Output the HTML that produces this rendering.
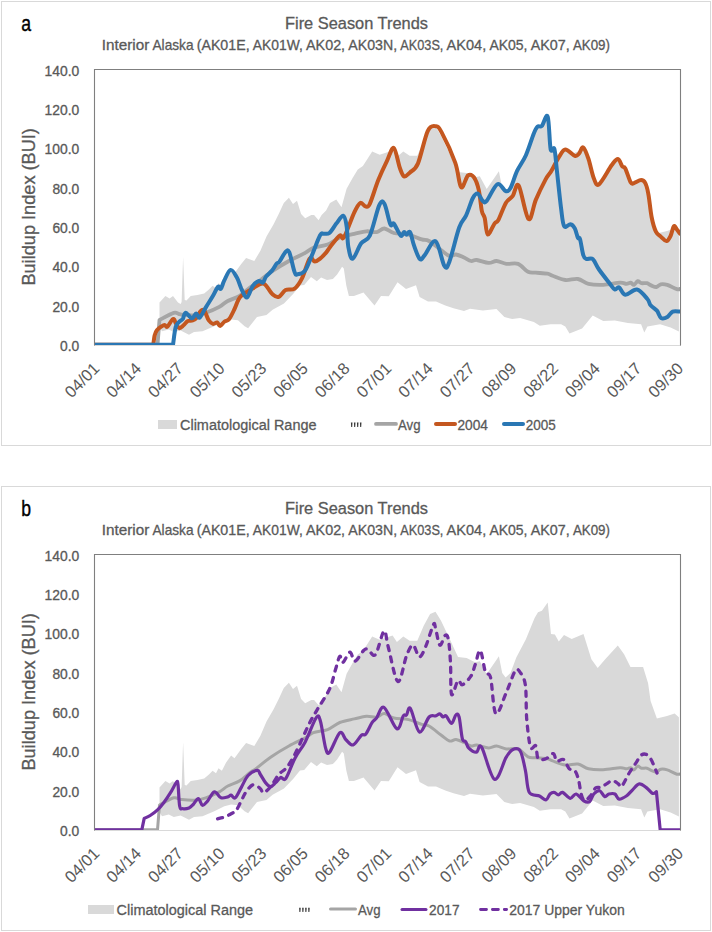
<!DOCTYPE html>
<html><head><meta charset="utf-8"><style>html,body{margin:0;padding:0;background:#fff;width:712px;height:932px;overflow:hidden}</style></head>
<body><svg width="712" height="932" viewBox="0 0 712 932" style="display:block">
<defs><clipPath id="clipa"><rect x="94" y="69" width="586.5" height="276"/></clipPath><clipPath id="clipb"><rect x="94" y="69" width="586.5" height="276"/></clipPath></defs>
<g font-family='"Liberation Sans", sans-serif' fill="#595959">
<rect x="1.5" y="1.5" width="709" height="444" fill="#fff" stroke="#d9d9d9" stroke-width="1"/>
<text transform="translate(21.3,30.8) scale(0.8,1)" font-size="22" fill="#000" stroke="#000" stroke-width="0.4">a</text>
<text x="285" y="28.6" font-size="16.6" textLength="143" lengthAdjust="spacingAndGlyphs" stroke="#595959" stroke-width="0.3">Fire Season Trends</text>
<text x="101.8" y="49.9" font-size="14.5" textLength="47.5" lengthAdjust="spacingAndGlyphs" stroke="#595959" stroke-width="0.3">Interior</text><text x="152.5" y="49.9" font-size="14.5" textLength="41.0" lengthAdjust="spacingAndGlyphs" stroke="#595959" stroke-width="0.3">Alaska</text><text x="196.7" y="49.9" font-size="14.5" textLength="52.9" lengthAdjust="spacingAndGlyphs" stroke="#595959" stroke-width="0.3">(AK01E,</text><text x="252.8" y="49.9" font-size="14.5" textLength="50.0" lengthAdjust="spacingAndGlyphs" stroke="#595959" stroke-width="0.3">AK01W,</text><text x="306.0" y="49.9" font-size="14.5" textLength="39.1" lengthAdjust="spacingAndGlyphs" stroke="#595959" stroke-width="0.3">AK02,</text><text x="348.3" y="49.9" font-size="14.5" textLength="48.8" lengthAdjust="spacingAndGlyphs" stroke="#595959" stroke-width="0.3">AK03N,</text><text x="400.3" y="49.9" font-size="14.5" textLength="43.1" lengthAdjust="spacingAndGlyphs" stroke="#595959" stroke-width="0.3">AK03S,</text><text x="446.6" y="49.9" font-size="14.5" textLength="39.6" lengthAdjust="spacingAndGlyphs" stroke="#595959" stroke-width="0.3">AK04,</text><text x="489.4" y="49.9" font-size="14.5" textLength="38.1" lengthAdjust="spacingAndGlyphs" stroke="#595959" stroke-width="0.3">AK05,</text><text x="530.7" y="49.9" font-size="14.5" textLength="39.0" lengthAdjust="spacingAndGlyphs" stroke="#595959" stroke-width="0.3">AK07,</text><text x="572.9" y="49.9" font-size="14.5" textLength="37.1" lengthAdjust="spacingAndGlyphs" stroke="#595959" stroke-width="0.3">AK09)</text>
<text transform="translate(35,285.6) rotate(-90)" font-size="18.2" textLength="157.5" lengthAdjust="spacingAndGlyphs" stroke="#595959" stroke-width="0.3">Buildup Index (BUI)</text>
<text x="79.3" y="350.8" text-anchor="end" font-size="13.8" textLength="19.2" lengthAdjust="spacingAndGlyphs" stroke="#595959" stroke-width="0.3">0.0</text>
<text x="79.3" y="311.5" text-anchor="end" font-size="13.8" textLength="26.9" lengthAdjust="spacingAndGlyphs" stroke="#595959" stroke-width="0.3">20.0</text>
<text x="79.3" y="272.2" text-anchor="end" font-size="13.8" textLength="26.9" lengthAdjust="spacingAndGlyphs" stroke="#595959" stroke-width="0.3">40.0</text>
<text x="79.3" y="232.9" text-anchor="end" font-size="13.8" textLength="26.9" lengthAdjust="spacingAndGlyphs" stroke="#595959" stroke-width="0.3">60.0</text>
<text x="79.3" y="193.7" text-anchor="end" font-size="13.8" textLength="26.9" lengthAdjust="spacingAndGlyphs" stroke="#595959" stroke-width="0.3">80.0</text>
<text x="79.3" y="154.4" text-anchor="end" font-size="13.8" textLength="34.7" lengthAdjust="spacingAndGlyphs" stroke="#595959" stroke-width="0.3">100.0</text>
<text x="79.3" y="115.1" text-anchor="end" font-size="13.8" textLength="34.7" lengthAdjust="spacingAndGlyphs" stroke="#595959" stroke-width="0.3">120.0</text>
<text x="79.3" y="75.8" text-anchor="end" font-size="13.8" textLength="34.7" lengthAdjust="spacingAndGlyphs" stroke="#595959" stroke-width="0.3">140.0</text>
<text transform="translate(100.6,369.5) rotate(-45)" text-anchor="end" font-size="16.5">04/01</text>
<text transform="translate(142.3,369.5) rotate(-45)" text-anchor="end" font-size="16.5">04/14</text>
<text transform="translate(184.0,369.5) rotate(-45)" text-anchor="end" font-size="16.5">04/27</text>
<text transform="translate(225.7,369.5) rotate(-45)" text-anchor="end" font-size="16.5">05/10</text>
<text transform="translate(267.4,369.5) rotate(-45)" text-anchor="end" font-size="16.5">05/23</text>
<text transform="translate(309.1,369.5) rotate(-45)" text-anchor="end" font-size="16.5">06/05</text>
<text transform="translate(350.7,369.5) rotate(-45)" text-anchor="end" font-size="16.5">06/18</text>
<text transform="translate(392.4,369.5) rotate(-45)" text-anchor="end" font-size="16.5">07/01</text>
<text transform="translate(434.1,369.5) rotate(-45)" text-anchor="end" font-size="16.5">07/14</text>
<text transform="translate(475.8,369.5) rotate(-45)" text-anchor="end" font-size="16.5">07/27</text>
<text transform="translate(517.5,369.5) rotate(-45)" text-anchor="end" font-size="16.5">08/09</text>
<text transform="translate(559.2,369.5) rotate(-45)" text-anchor="end" font-size="16.5">08/22</text>
<text transform="translate(600.9,369.5) rotate(-45)" text-anchor="end" font-size="16.5">09/04</text>
<text transform="translate(642.6,369.5) rotate(-45)" text-anchor="end" font-size="16.5">09/17</text>
<text transform="translate(684.3,369.5) rotate(-45)" text-anchor="end" font-size="16.5">09/30</text>
<g transform="translate(0,0)">
<line x1="94" y1="345.5" x2="681" y2="345.5" stroke="#d9d9d9" stroke-width="1"/>
<g clip-path="url(#clipa)">
<polygon points="159.5,302.6 165.4,295.9 169.6,298.5 173.0,296.0 178.0,302.5 180.6,304.0 181.6,302.0 183.1,257.1 184.7,300.0 186.5,300.5 190.7,295.9 197.4,295.1 204.2,293.4 209.2,289.2 212.6,285.8 216.0,288.3 218.5,283.3 221.9,285.8 226.1,277.4 231.1,270.6 234.5,273.2 241.2,263.9 246.1,257.9 254.3,260.9 260.4,250.8 266.5,236.5 273.6,224.3 278.7,214.1 283.8,202.9 288.9,197.8 293.0,203.9 297.0,200.8 301.1,214.1 305.2,218.2 311.3,215.1 314.1,215.0 318.6,220.3 321.6,215.0 326.1,210.5 330.0,203.0 336.3,199.5 341.5,207.3 346.6,188.7 352.6,178.0 357.8,169.5 362.9,166.0 372.2,151.5 379.7,154.7 392.6,150.4 396.9,156.9 403.3,151.5 409.7,155.8 417.3,155.8 423.7,140.8 430.1,129.0 435.5,126.8 440.9,135.4 449.5,153.6 458.0,171.9 466.6,173.0 475.0,177.3 479.8,176.3 486.7,189.1 495.0,177.0 498.9,171.2 502.2,188.1 505.6,192.4 510.5,188.1 516.3,172.6 525.9,154.3 534.6,133.0 538.0,127.2 541.9,125.8 547.7,117.6 551.0,149.0 554.9,149.4 558.8,156.5 564.0,150.1 571.7,153.9 583.5,149.0 591.4,174.3 597.7,183.1 605.2,174.3 617.8,160.4 624.1,169.2 630.5,181.9 643.1,181.9 648.1,198.2 650.6,215.9 656.9,233.6 667.0,231.0 674.6,228.5 678.9,232.3 678.9,331.5 670.6,327.4 660.1,324.3 647.4,326.4 644.3,332.5 641.1,324.3 627.9,323.1 614.8,320.5 603.2,321.1 592.7,315.5 582.1,328.5 569.5,333.5 565.3,326.4 561.1,324.3 550.5,324.3 539.8,325.8 533.9,321.9 520.1,318.0 512.2,319.0 504.4,317.0 496.5,309.1 482.9,310.5 470.0,308.8 464.0,311.0 453.5,308.3 445.3,305.5 436.0,301.5 428.0,301.5 419.6,297.0 416.0,285.3 406.0,289.0 397.5,282.3 388.8,296.2 381.0,296.0 374.5,305.5 363.5,292.5 353.9,295.9 348.9,295.9 346.3,285.4 343.8,268.5 342.1,266.8 337.1,274.4 332.9,279.1 327.0,279.9 321.1,277.4 316.8,281.2 311.0,277.0 304.2,285.0 300.0,285.4 293.1,294.0 284.0,303.6 272.6,309.8 266.5,314.9 257.0,317.1 248.1,328.2 244.6,326.2 237.9,320.3 231.1,319.5 224.4,321.2 214.3,326.2 202.5,331.3 194.0,332.1 189.0,334.7 180.6,330.5 173.8,332.1 168.8,329.6 162.0,331.3 159.5,327.0" fill="#d9d9d9"/>
<path d="M94.0,344.8 C104.6,344.8 146.9,344.8 157.5,344.8 C157.8,340.7 159.2,324.1 159.5,320.0 C161.9,318.8 170.3,313.7 173.8,312.8 C177.3,311.9 177.2,314.0 180.6,314.4 C184.0,314.8 189.8,315.6 194.0,315.3 C198.2,315.0 201.6,314.2 205.8,312.8 C210.0,311.4 215.6,308.9 219.3,306.9 C223.0,304.9 224.4,302.8 227.8,301.0 C231.2,299.2 235.9,298.1 239.6,295.9 C243.3,293.6 247.2,289.6 250.0,287.5 C252.8,285.4 252.9,285.9 256.3,283.4 C259.7,280.8 265.2,275.9 270.6,272.2 C276.0,268.5 283.1,264.2 288.9,261.0 C294.7,257.8 301.1,255.0 305.2,252.8 C309.3,250.6 309.7,249.1 313.4,247.7 C317.1,246.3 323.2,246.3 327.6,244.6 C332.0,242.9 335.4,239.3 339.8,237.5 C344.2,235.7 349.9,234.9 354.3,233.9 C358.7,232.9 362.7,231.6 366.4,231.3 C370.1,231.0 373.7,232.6 376.7,232.1 C379.7,231.6 381.5,228.3 384.4,228.5 C387.2,228.7 389.8,232.0 393.8,233.0 C397.9,234.0 404.1,233.5 408.7,234.6 C413.3,235.7 418.3,238.3 421.7,239.4 C425.1,240.5 425.8,239.2 429.0,241.0 C432.2,242.8 437.6,247.5 441.0,250.0 C444.4,252.5 447.0,255.2 449.5,256.0 C452.0,256.8 453.6,254.2 456.0,254.5 C458.4,254.8 461.5,256.4 464.0,257.5 C466.5,258.6 468.9,260.6 471.0,261.0 C473.1,261.4 473.9,259.7 476.8,260.0 C479.7,260.3 485.3,262.7 488.6,262.9 C491.9,263.1 493.6,260.8 496.5,261.0 C499.4,261.2 502.7,263.4 506.3,263.9 C509.9,264.4 514.5,262.6 518.1,263.9 C521.7,265.2 525.0,270.3 528.0,271.8 C531.0,273.3 532.6,272.4 535.8,272.7 C539.0,273.0 544.6,273.2 547.4,273.7 C550.2,274.2 549.6,274.8 552.6,275.8 C555.6,276.9 561.1,279.5 565.3,280.0 C569.5,280.5 574.0,278.4 577.9,279.0 C581.8,279.6 584.3,282.8 588.5,283.8 C592.7,284.8 598.0,285.0 603.2,284.8 C608.5,284.6 616.1,282.9 620.0,282.7 C623.9,282.5 624.6,283.8 626.4,283.8 C628.2,283.8 629.4,282.5 630.7,282.7 C632.0,282.9 632.8,285.2 634.0,284.9 C635.2,284.6 636.5,281.4 637.7,281.1 C639.0,280.8 640.0,282.9 641.5,283.2 C643.0,283.5 645.3,282.8 646.9,283.2 C648.5,283.6 649.5,284.8 651.1,285.4 C652.7,286.0 654.9,287.2 656.5,287.0 C658.1,286.8 659.0,284.7 660.8,284.3 C662.6,283.9 664.6,284.1 667.3,284.9 C670.0,285.7 674.6,288.6 676.9,289.2 C679.2,289.8 680.3,288.7 681.0,288.6" fill="none" stroke="#a5a5a5" stroke-width="3.8" stroke-linejoin="round" stroke-linecap="round" />
<path d="M94.0,344.8 C103.9,344.8 143.4,344.8 153.3,344.8 C153.5,343.2 154.1,337.6 154.7,335.2 C155.3,332.8 155.8,331.7 156.9,330.3 C158.0,328.9 159.8,327.6 161.1,326.7 C162.4,325.8 163.5,325.0 164.6,325.0 C165.7,325.0 166.0,327.7 167.4,326.7 C168.8,325.7 171.6,319.6 173.0,319.0 C174.4,318.4 174.8,321.7 175.8,323.2 C176.9,324.7 178.0,327.8 179.3,328.1 C180.6,328.5 182.1,326.5 183.5,325.3 C184.9,324.1 186.3,321.9 187.8,321.1 C189.3,320.3 191.3,320.9 192.7,320.4 C194.1,319.9 194.9,319.8 196.2,318.3 C197.5,316.8 199.1,312.7 200.4,311.3 C201.7,309.9 203.0,309.4 203.9,309.9 C204.8,310.4 205.2,312.4 206.0,314.1 C206.8,315.9 207.6,318.8 208.8,320.4 C210.0,322.0 211.6,323.5 213.0,323.9 C214.4,324.2 216.0,322.1 217.2,322.5 C218.4,322.9 218.9,326.1 220.1,326.0 C221.3,325.9 222.8,323.0 224.3,321.8 C225.8,320.6 227.6,321.0 229.2,319.0 C230.8,317.0 232.6,313.1 234.1,309.9 C235.6,306.7 237.0,302.4 238.3,300.0 C239.6,297.6 239.6,297.2 242.0,295.3 C244.4,293.4 249.8,290.4 252.5,288.6 C255.2,286.9 256.5,285.6 258.5,284.8 C260.5,284.1 262.1,282.5 264.5,284.1 C266.9,285.7 270.4,292.5 272.8,294.6 C275.2,296.7 276.7,297.6 278.8,296.8 C280.9,296.1 283.0,291.5 285.6,290.1 C288.2,288.7 291.9,290.6 294.6,288.6 C297.4,286.6 299.6,283.1 302.1,278.1 C304.6,273.1 307.5,261.4 309.6,258.6 C311.7,255.9 313.1,261.6 314.8,261.6 C316.6,261.6 318.2,260.1 320.1,258.6 C322.0,257.1 324.4,254.6 326.1,252.6 C327.8,250.6 328.0,249.5 330.3,246.7 C332.6,243.9 337.4,237.2 339.7,235.6 C342.0,234.0 341.6,241.2 344.0,237.3 C346.4,233.4 351.6,218.1 354.3,212.4 C357.0,206.7 358.4,204.0 360.3,203.0 C362.2,202.0 363.9,206.3 365.5,206.4 C367.1,206.5 367.7,208.2 369.8,203.8 C371.9,199.4 375.5,187.0 378.4,179.8 C381.3,172.7 384.4,166.2 387.0,160.9 C389.6,155.6 391.7,146.8 393.8,148.0 C395.9,149.2 398.1,163.1 399.8,167.8 C401.5,172.5 402.4,175.6 404.1,176.4 C405.8,177.2 407.7,174.5 410.0,172.4 C412.3,170.3 414.9,170.5 417.9,163.6 C420.8,156.7 424.8,137.3 427.7,131.1 C430.6,124.9 433.3,126.0 435.6,126.2 C437.9,126.4 438.2,126.0 441.5,132.1 C444.8,138.2 451.9,153.4 455.2,162.6 C458.5,171.8 459.0,185.1 461.1,187.2 C463.2,189.3 465.9,177.1 468.0,175.4 C470.1,173.8 472.1,174.9 473.9,177.3 C475.7,179.8 477.5,184.5 478.8,190.1 C480.1,195.7 480.8,206.2 481.8,210.8 C482.8,215.5 483.7,214.1 484.7,218.0 C485.7,221.9 486.1,233.5 487.7,234.4 C489.3,235.3 492.7,226.1 494.5,223.6 C496.3,221.1 496.6,223.2 498.5,219.7 C500.4,216.2 503.6,206.8 506.0,202.8 C508.4,198.8 510.7,198.7 512.8,195.8 C514.9,192.9 516.1,181.6 518.7,185.5 C521.3,189.4 525.6,216.6 528.5,219.0 C531.4,221.4 533.0,206.5 535.8,199.9 C538.6,193.3 542.9,184.5 545.5,179.6 C548.1,174.7 549.4,174.4 551.6,170.6 C553.9,166.8 556.7,160.4 559.0,156.9 C561.3,153.4 562.7,149.7 565.3,149.5 C567.9,149.3 572.5,155.1 574.8,155.8 C577.1,156.5 577.6,155.1 579.0,153.7 C580.4,152.3 581.6,146.5 583.2,147.4 C584.8,148.3 586.8,153.9 588.5,159.0 C590.2,164.1 592.0,173.8 593.7,178.0 C595.5,182.2 596.0,186.4 599.0,184.3 C602.0,182.2 608.5,169.5 611.6,165.3 C614.8,161.1 616.1,158.8 617.9,159.0 C619.7,159.2 621.0,164.8 622.2,166.4 C623.4,168.0 623.9,165.9 625.3,168.5 C626.7,171.1 629.2,179.8 630.6,182.2 C632.0,184.6 632.0,183.5 633.7,183.2 C635.5,182.8 639.2,180.1 641.1,180.1 C643.0,180.1 644.1,180.8 645.3,183.2 C646.5,185.6 647.5,189.2 648.5,194.8 C649.5,200.4 650.4,210.9 651.6,217.0 C652.8,223.1 654.3,228.3 655.9,231.6 C657.5,234.9 659.4,235.3 661.1,236.9 C662.9,238.5 664.8,241.3 666.4,241.1 C668.0,240.9 669.4,238.3 670.6,235.8 C671.8,233.3 672.8,227.4 673.8,226.3 C674.8,225.2 675.9,228.3 676.9,229.5 C677.9,230.7 679.5,233.0 680.0,233.7" fill="none" stroke="#c4571f" stroke-width="4" stroke-linejoin="round" stroke-linecap="round" />
<path d="M94.0,344.8 C107.2,344.8 159.8,344.8 173.0,344.8 C173.5,341.8 174.6,330.6 175.8,326.7 C177.0,322.8 178.8,322.4 180.0,321.1 C181.2,319.8 181.9,320.4 182.8,319.0 C183.7,317.6 184.1,312.8 185.6,312.7 C187.1,312.6 190.2,318.2 192.0,318.3 C193.8,318.4 194.9,313.5 196.2,313.4 C197.5,313.3 198.1,318.7 199.7,317.6 C201.3,316.6 203.8,310.7 206.0,307.1 C208.2,303.5 211.0,299.2 213.0,295.8 C215.0,292.4 216.7,287.9 218.0,286.7 C219.3,285.5 219.8,289.9 220.8,288.8 C221.9,287.8 222.7,283.5 224.3,280.4 C225.9,277.2 228.5,270.4 230.6,269.9 C232.7,269.4 235.1,274.5 236.9,277.6 C238.7,280.7 239.7,285.3 241.3,288.6 C243.0,291.9 244.9,298.0 246.8,297.6 C248.7,297.2 250.6,289.1 252.5,286.3 C254.4,283.6 256.8,281.7 258.5,281.1 C260.2,280.5 261.8,283.4 263.0,282.6 C264.2,281.9 264.5,278.6 266.0,276.6 C267.5,274.6 270.2,272.7 272.0,270.6 C273.8,268.5 275.2,265.3 276.5,263.8 C277.8,262.3 278.0,263.6 279.5,261.6 C281.0,259.6 284.0,253.4 285.6,251.8 C287.2,250.2 287.8,248.9 289.3,252.3 C290.8,255.7 293.2,268.4 294.6,272.1 C296.0,275.8 295.9,274.6 297.6,274.3 C299.4,274.1 302.7,273.7 305.1,270.6 C307.5,267.5 309.3,261.5 311.8,255.6 C314.3,249.7 318.1,238.9 320.1,235.3 C322.1,231.7 322.2,234.2 323.8,233.8 C325.4,233.4 327.3,234.7 329.4,233.0 C331.5,231.3 334.0,226.5 336.3,223.6 C338.6,220.7 341.5,215.4 343.2,215.8 C344.9,216.2 345.8,220.9 346.6,226.1 C347.5,231.2 347.3,241.2 348.3,246.7 C349.3,252.1 350.5,259.4 352.6,258.8 C354.8,258.2 358.3,247.2 361.2,243.3 C364.1,239.4 366.8,241.9 369.8,235.6 C372.8,229.3 376.8,210.6 379.2,205.3 C381.6,200.0 382.5,200.6 384.4,203.8 C386.3,207.0 388.8,221.1 390.4,224.4 C392.0,227.7 392.1,221.7 393.8,223.6 C395.5,225.5 399.0,234.2 400.7,235.6 C402.4,237.0 403.1,232.2 404.1,232.1 C405.1,231.9 405.7,234.7 406.7,234.7 C407.7,234.7 408.9,230.3 410.1,232.1 C411.3,233.8 412.3,240.7 413.9,245.2 C415.5,249.7 418.0,257.4 419.8,259.0 C421.6,260.6 422.1,258.1 424.7,255.1 C427.3,252.2 432.3,239.5 435.6,241.3 C438.9,243.1 442.1,262.5 444.4,265.9 C446.7,269.3 446.8,268.3 449.3,261.9 C451.8,255.5 456.4,235.2 459.2,227.5 C462.0,219.8 463.7,220.6 466.0,215.7 C468.3,210.8 470.9,201.7 472.9,198.0 C474.9,194.3 476.2,193.1 477.8,193.6 C479.4,194.1 481.2,199.7 482.7,200.9 C484.2,202.1 484.2,203.7 486.7,200.9 C489.1,198.1 494.2,185.8 497.4,184.2 C500.5,182.5 503.4,190.3 505.6,191.0 C507.8,191.7 508.6,191.5 510.5,188.1 C512.4,184.7 514.6,176.2 517.2,170.7 C519.8,165.2 523.2,161.3 525.9,155.2 C528.6,149.1 531.7,138.8 533.6,134.0 C535.5,129.2 536.1,128.1 537.5,126.7 C538.9,125.3 540.2,127.5 541.9,125.8 C543.6,124.1 546.2,112.7 547.7,116.6 C549.2,120.5 549.5,143.6 550.6,149.0 C551.7,154.4 553.4,145.4 554.4,149.0 C555.4,152.6 555.8,160.7 556.9,170.6 C558.0,180.5 559.9,199.2 561.1,208.5 C562.3,217.8 562.6,223.7 564.2,226.3 C565.8,228.9 568.7,223.8 570.5,224.2 C572.3,224.5 573.6,226.1 574.8,228.4 C576.0,230.7 577.0,236.1 577.9,237.9 C578.8,239.7 579.1,236.2 580.0,239.0 C580.9,241.8 582.2,251.5 583.2,254.8 C584.2,258.1 584.7,258.3 586.3,259.0 C587.9,259.7 590.6,257.2 592.7,259.0 C594.8,260.8 596.2,265.5 599.0,269.5 C601.8,273.5 606.9,279.9 609.5,283.2 C612.1,286.5 613.2,288.8 614.8,289.5 C616.4,290.2 617.2,286.5 619.0,287.4 C620.8,288.3 622.3,294.4 625.3,294.8 C628.3,295.2 633.2,288.8 636.9,289.5 C640.6,290.2 645.1,296.4 647.4,299.0 C649.7,301.6 649.0,303.4 650.6,305.3 C652.2,307.2 655.1,308.5 656.9,310.6 C658.6,312.7 659.4,316.9 661.1,318.0 C662.9,319.1 665.5,318.0 667.4,316.9 C669.3,315.8 670.6,312.5 672.7,311.6 C674.8,310.7 678.8,311.6 680.0,311.6" fill="none" stroke="#2a77b4" stroke-width="4" stroke-linejoin="round" stroke-linecap="round" />
</g>
<path d="M94.5,345.5 V69.5 H680.5 V345.5" fill="none" stroke="#7f7f7f" stroke-width="1.1"/>
</g>
<rect x="158" y="420" width="19" height="9" fill="#d9d9d9"/>
<text x="180" y="430" font-size="15.5" textLength="136.5" lengthAdjust="spacingAndGlyphs" stroke="#595959" stroke-width="0.3">Climatological Range</text>
<path d="M350.9,422.6 h1.6 l-0.3,4.3 h-1 z" fill="#3a3a3a"/><path d="M353.9,422.6 h1.6 l-0.3,4.3 h-1 z" fill="#3a3a3a"/><path d="M356.9,422.6 h1.6 l-0.3,4.3 h-1 z" fill="#3a3a3a"/><path d="M359.9,422.6 h1.6 l-0.3,4.3 h-1 z" fill="#3a3a3a"/>
<line x1="376" y1="423.9" x2="396" y2="423.9" stroke="#a5a5a5" stroke-width="3.8" stroke-linecap="round"/>
<text x="398" y="430" font-size="15.5" textLength="22.5" lengthAdjust="spacingAndGlyphs" stroke="#595959" stroke-width="0.3">Avg</text>
<line x1="436" y1="423.9" x2="455" y2="423.9" stroke="#c4571f" stroke-width="4" stroke-linecap="round"/>
<text x="457.5" y="430" font-size="15.5" textLength="30.5" lengthAdjust="spacingAndGlyphs" stroke="#595959" stroke-width="0.3">2004</text>
<line x1="504" y1="423.9" x2="523" y2="423.9" stroke="#2a77b4" stroke-width="4" stroke-linecap="round"/>
<text x="525.8" y="430" font-size="15.5" textLength="30" lengthAdjust="spacingAndGlyphs" stroke="#595959" stroke-width="0.3">2005</text>
<rect x="1.5" y="486.5" width="709" height="444" fill="#fff" stroke="#d9d9d9" stroke-width="1"/>
<text transform="translate(21.3,515.8) scale(0.8,1)" font-size="22" fill="#000" stroke="#000" stroke-width="0.4">b</text>
<text x="285" y="513.6" font-size="16.6" textLength="143" lengthAdjust="spacingAndGlyphs" stroke="#595959" stroke-width="0.3">Fire Season Trends</text>
<text x="101.8" y="534.9" font-size="14.5" textLength="47.5" lengthAdjust="spacingAndGlyphs" stroke="#595959" stroke-width="0.3">Interior</text><text x="152.5" y="534.9" font-size="14.5" textLength="41.0" lengthAdjust="spacingAndGlyphs" stroke="#595959" stroke-width="0.3">Alaska</text><text x="196.7" y="534.9" font-size="14.5" textLength="52.9" lengthAdjust="spacingAndGlyphs" stroke="#595959" stroke-width="0.3">(AK01E,</text><text x="252.8" y="534.9" font-size="14.5" textLength="50.0" lengthAdjust="spacingAndGlyphs" stroke="#595959" stroke-width="0.3">AK01W,</text><text x="306.0" y="534.9" font-size="14.5" textLength="39.1" lengthAdjust="spacingAndGlyphs" stroke="#595959" stroke-width="0.3">AK02,</text><text x="348.3" y="534.9" font-size="14.5" textLength="48.8" lengthAdjust="spacingAndGlyphs" stroke="#595959" stroke-width="0.3">AK03N,</text><text x="400.3" y="534.9" font-size="14.5" textLength="43.1" lengthAdjust="spacingAndGlyphs" stroke="#595959" stroke-width="0.3">AK03S,</text><text x="446.6" y="534.9" font-size="14.5" textLength="39.6" lengthAdjust="spacingAndGlyphs" stroke="#595959" stroke-width="0.3">AK04,</text><text x="489.4" y="534.9" font-size="14.5" textLength="38.1" lengthAdjust="spacingAndGlyphs" stroke="#595959" stroke-width="0.3">AK05,</text><text x="530.7" y="534.9" font-size="14.5" textLength="39.0" lengthAdjust="spacingAndGlyphs" stroke="#595959" stroke-width="0.3">AK07,</text><text x="572.9" y="534.9" font-size="14.5" textLength="37.1" lengthAdjust="spacingAndGlyphs" stroke="#595959" stroke-width="0.3">AK09)</text>
<text transform="translate(35,770.6) rotate(-90)" font-size="18.2" textLength="157.5" lengthAdjust="spacingAndGlyphs" stroke="#595959" stroke-width="0.3">Buildup Index (BUI)</text>
<text x="79.3" y="835.8" text-anchor="end" font-size="13.8" textLength="19.2" lengthAdjust="spacingAndGlyphs" stroke="#595959" stroke-width="0.3">0.0</text>
<text x="79.3" y="796.5" text-anchor="end" font-size="13.8" textLength="26.9" lengthAdjust="spacingAndGlyphs" stroke="#595959" stroke-width="0.3">20.0</text>
<text x="79.3" y="757.2" text-anchor="end" font-size="13.8" textLength="26.9" lengthAdjust="spacingAndGlyphs" stroke="#595959" stroke-width="0.3">40.0</text>
<text x="79.3" y="717.9" text-anchor="end" font-size="13.8" textLength="26.9" lengthAdjust="spacingAndGlyphs" stroke="#595959" stroke-width="0.3">60.0</text>
<text x="79.3" y="678.7" text-anchor="end" font-size="13.8" textLength="26.9" lengthAdjust="spacingAndGlyphs" stroke="#595959" stroke-width="0.3">80.0</text>
<text x="79.3" y="639.4" text-anchor="end" font-size="13.8" textLength="34.7" lengthAdjust="spacingAndGlyphs" stroke="#595959" stroke-width="0.3">100.0</text>
<text x="79.3" y="600.1" text-anchor="end" font-size="13.8" textLength="34.7" lengthAdjust="spacingAndGlyphs" stroke="#595959" stroke-width="0.3">120.0</text>
<text x="79.3" y="560.8" text-anchor="end" font-size="13.8" textLength="34.7" lengthAdjust="spacingAndGlyphs" stroke="#595959" stroke-width="0.3">140.0</text>
<text transform="translate(100.6,854.5) rotate(-45)" text-anchor="end" font-size="16.5">04/01</text>
<text transform="translate(142.3,854.5) rotate(-45)" text-anchor="end" font-size="16.5">04/14</text>
<text transform="translate(184.0,854.5) rotate(-45)" text-anchor="end" font-size="16.5">04/27</text>
<text transform="translate(225.7,854.5) rotate(-45)" text-anchor="end" font-size="16.5">05/10</text>
<text transform="translate(267.4,854.5) rotate(-45)" text-anchor="end" font-size="16.5">05/23</text>
<text transform="translate(309.1,854.5) rotate(-45)" text-anchor="end" font-size="16.5">06/05</text>
<text transform="translate(350.7,854.5) rotate(-45)" text-anchor="end" font-size="16.5">06/18</text>
<text transform="translate(392.4,854.5) rotate(-45)" text-anchor="end" font-size="16.5">07/01</text>
<text transform="translate(434.1,854.5) rotate(-45)" text-anchor="end" font-size="16.5">07/14</text>
<text transform="translate(475.8,854.5) rotate(-45)" text-anchor="end" font-size="16.5">07/27</text>
<text transform="translate(517.5,854.5) rotate(-45)" text-anchor="end" font-size="16.5">08/09</text>
<text transform="translate(559.2,854.5) rotate(-45)" text-anchor="end" font-size="16.5">08/22</text>
<text transform="translate(600.9,854.5) rotate(-45)" text-anchor="end" font-size="16.5">09/04</text>
<text transform="translate(642.6,854.5) rotate(-45)" text-anchor="end" font-size="16.5">09/17</text>
<text transform="translate(684.3,854.5) rotate(-45)" text-anchor="end" font-size="16.5">09/30</text>
<g transform="translate(0,485)">
<line x1="94" y1="345.5" x2="681" y2="345.5" stroke="#d9d9d9" stroke-width="1"/>
<g clip-path="url(#clipb)">
<polygon points="159.5,302.6 165.4,295.9 169.6,298.5 173.0,296.0 178.0,302.5 180.6,304.0 181.6,302.0 183.1,257.1 184.7,300.0 186.5,300.5 190.7,295.9 197.4,295.1 204.2,293.4 209.2,289.2 212.6,285.8 216.0,288.3 218.5,283.3 221.9,285.8 226.1,277.4 231.1,270.6 234.5,273.2 241.2,263.9 246.1,257.9 254.3,260.9 260.4,250.8 266.5,236.5 273.6,224.3 278.7,214.1 283.8,202.9 288.9,197.8 293.0,203.9 297.0,200.8 301.1,214.1 305.2,218.2 311.3,215.1 314.1,215.0 318.6,220.3 321.6,215.0 326.1,210.5 330.0,203.0 336.3,199.5 341.5,207.3 346.6,188.7 352.6,178.0 357.8,169.5 362.9,166.0 372.2,151.5 379.7,154.7 392.6,150.4 396.9,156.9 403.3,151.5 409.7,155.8 417.3,155.8 423.7,140.8 430.1,129.0 435.5,126.8 440.9,135.4 449.5,153.6 458.0,171.9 466.6,173.0 475.0,177.3 479.8,176.3 486.7,189.1 495.0,177.0 498.9,171.2 502.2,188.1 505.6,192.4 510.5,188.1 516.3,172.6 525.9,154.3 534.6,133.0 538.0,127.2 541.9,125.8 547.7,117.6 551.0,149.0 554.9,149.4 558.8,156.5 564.0,150.1 571.7,153.9 583.5,149.0 591.4,174.3 597.7,183.1 605.2,174.3 617.8,160.4 624.1,169.2 630.5,181.9 643.1,181.9 648.1,198.2 650.6,215.9 656.9,233.6 667.0,231.0 674.6,228.5 678.9,232.3 678.9,331.5 670.6,327.4 660.1,324.3 647.4,326.4 644.3,332.5 641.1,324.3 627.9,323.1 614.8,320.5 603.2,321.1 592.7,315.5 582.1,328.5 569.5,333.5 565.3,326.4 561.1,324.3 550.5,324.3 539.8,325.8 533.9,321.9 520.1,318.0 512.2,319.0 504.4,317.0 496.5,309.1 482.9,310.5 470.0,308.8 464.0,311.0 453.5,308.3 445.3,305.5 436.0,301.5 428.0,301.5 419.6,297.0 416.0,285.3 406.0,289.0 397.5,282.3 388.8,296.2 381.0,296.0 374.5,305.5 363.5,292.5 353.9,295.9 348.9,295.9 346.3,285.4 343.8,268.5 342.1,266.8 337.1,274.4 332.9,279.1 327.0,279.9 321.1,277.4 316.8,281.2 311.0,277.0 304.2,285.0 300.0,285.4 293.1,294.0 284.0,303.6 272.6,309.8 266.5,314.9 257.0,317.1 248.1,328.2 244.6,326.2 237.9,320.3 231.1,319.5 224.4,321.2 214.3,326.2 202.5,331.3 194.0,332.1 189.0,334.7 180.6,330.5 173.8,332.1 168.8,329.6 162.0,331.3 159.5,327.0" fill="#d9d9d9"/>
<path d="M94.0,344.8 C104.6,344.8 146.9,344.8 157.5,344.8 C157.8,340.7 159.2,324.1 159.5,320.0 C161.9,318.8 170.3,313.7 173.8,312.8 C177.3,311.9 177.2,314.0 180.6,314.4 C184.0,314.8 189.8,315.6 194.0,315.3 C198.2,315.0 201.6,314.2 205.8,312.8 C210.0,311.4 215.6,308.9 219.3,306.9 C223.0,304.9 224.4,302.8 227.8,301.0 C231.2,299.2 235.9,298.1 239.6,295.9 C243.3,293.6 247.2,289.6 250.0,287.5 C252.8,285.4 252.9,285.9 256.3,283.4 C259.7,280.8 265.2,275.9 270.6,272.2 C276.0,268.5 283.1,264.2 288.9,261.0 C294.7,257.8 301.1,255.0 305.2,252.8 C309.3,250.6 309.7,249.1 313.4,247.7 C317.1,246.3 323.2,246.3 327.6,244.6 C332.0,242.9 335.4,239.3 339.8,237.5 C344.2,235.7 349.9,234.9 354.3,233.9 C358.7,232.9 362.7,231.6 366.4,231.3 C370.1,231.0 373.7,232.6 376.7,232.1 C379.7,231.6 381.5,228.3 384.4,228.5 C387.2,228.7 389.8,232.0 393.8,233.0 C397.9,234.0 404.1,233.5 408.7,234.6 C413.3,235.7 418.3,238.3 421.7,239.4 C425.1,240.5 425.8,239.2 429.0,241.0 C432.2,242.8 437.6,247.5 441.0,250.0 C444.4,252.5 447.0,255.2 449.5,256.0 C452.0,256.8 453.6,254.2 456.0,254.5 C458.4,254.8 461.5,256.4 464.0,257.5 C466.5,258.6 468.9,260.6 471.0,261.0 C473.1,261.4 473.9,259.7 476.8,260.0 C479.7,260.3 485.3,262.7 488.6,262.9 C491.9,263.1 493.6,260.8 496.5,261.0 C499.4,261.2 502.7,263.4 506.3,263.9 C509.9,264.4 514.5,262.6 518.1,263.9 C521.7,265.2 525.0,270.3 528.0,271.8 C531.0,273.3 532.6,272.4 535.8,272.7 C539.0,273.0 544.6,273.2 547.4,273.7 C550.2,274.2 549.6,274.8 552.6,275.8 C555.6,276.9 561.1,279.5 565.3,280.0 C569.5,280.5 574.0,278.4 577.9,279.0 C581.8,279.6 584.3,282.8 588.5,283.8 C592.7,284.8 598.0,285.0 603.2,284.8 C608.5,284.6 616.1,282.9 620.0,282.7 C623.9,282.5 624.6,283.8 626.4,283.8 C628.2,283.8 629.4,282.5 630.7,282.7 C632.0,282.9 632.8,285.2 634.0,284.9 C635.2,284.6 636.5,281.4 637.7,281.1 C639.0,280.8 640.0,282.9 641.5,283.2 C643.0,283.5 645.3,282.8 646.9,283.2 C648.5,283.6 649.5,284.8 651.1,285.4 C652.7,286.0 654.9,287.2 656.5,287.0 C658.1,286.8 659.0,284.7 660.8,284.3 C662.6,283.9 664.6,284.1 667.3,284.9 C670.0,285.7 674.6,288.6 676.9,289.2 C679.2,289.8 680.3,288.7 681.0,288.6" fill="none" stroke="#a5a5a5" stroke-width="3.0" stroke-linejoin="round" stroke-linecap="round" />
<path d="M94.0,344.8 C102.0,344.8 133.8,344.8 141.8,344.8 C142.2,342.9 143.8,335.3 144.2,333.4 C145.2,332.9 147.9,332.0 150.2,330.5 C152.5,329.0 155.6,326.7 157.8,324.6 C160.1,322.5 161.6,320.6 163.7,317.8 C165.8,315.0 168.4,311.1 170.5,307.7 C172.6,304.3 175.2,298.7 176.4,297.3 C177.7,295.9 177.4,295.3 178.0,299.3 C178.6,303.3 178.8,317.1 179.7,321.2 C180.5,325.3 181.5,323.4 183.1,323.7 C184.7,324.0 187.3,323.6 189.0,322.9 C190.7,322.2 191.6,321.1 193.2,319.5 C194.8,317.9 196.8,313.5 198.3,313.6 C199.9,313.7 201.0,319.9 202.5,320.3 C204.0,320.7 205.5,318.3 207.5,316.1 C209.5,313.9 212.1,307.4 214.3,306.9 C216.6,306.3 218.8,312.0 221.0,312.8 C223.2,313.6 226.1,312.3 227.8,311.9 C229.5,311.5 229.8,310.0 231.1,310.2 C232.3,310.4 233.6,314.1 235.3,312.8 C237.0,311.5 239.1,306.3 241.2,302.6 C243.3,298.9 245.4,293.4 248.1,290.5 C250.8,287.6 255.2,285.6 257.3,285.4 C259.4,285.2 259.0,287.5 260.4,289.5 C261.8,291.5 263.8,295.6 265.5,297.6 C267.2,299.6 268.9,301.7 270.6,301.7 C272.3,301.7 274.0,299.1 275.7,297.6 C277.4,296.1 279.0,293.2 280.7,292.5 C282.4,291.8 283.4,296.7 285.8,293.5 C288.2,290.3 291.8,279.3 295.0,273.2 C298.2,267.1 301.6,263.7 305.2,256.9 C308.8,250.1 313.8,235.8 316.4,232.4 C318.9,229.0 319.0,231.4 320.5,236.5 C322.0,241.6 324.1,257.9 325.6,263.0 C327.1,268.1 327.2,269.7 329.6,267.1 C332.0,264.6 337.1,249.8 339.8,247.7 C342.5,245.6 343.8,252.8 346.0,254.8 C348.2,256.8 350.5,260.6 353.1,259.9 C355.7,259.1 359.3,252.1 361.4,250.3 C363.5,248.5 363.9,251.3 365.7,249.2 C367.5,247.0 370.4,240.1 372.2,237.4 C374.0,234.7 374.5,235.6 376.5,233.1 C378.5,230.6 380.6,220.5 384.0,222.3 C387.4,224.1 393.7,242.4 396.9,243.8 C400.1,245.2 401.7,233.2 403.3,230.9 C404.9,228.6 405.3,231.2 406.5,229.9 C407.7,228.7 408.2,220.6 410.4,223.4 C412.5,226.2 416.3,245.6 419.4,247.0 C422.5,248.4 426.4,234.7 429.1,232.0 C431.8,229.3 433.7,231.4 435.5,230.9 C437.3,230.4 438.6,228.6 439.8,228.8 C441.1,229.0 441.9,231.7 443.0,232.0 C444.1,232.3 444.8,229.8 446.2,230.9 C447.6,232.0 450.0,238.6 451.6,238.4 C453.2,238.2 454.6,231.0 455.9,229.9 C457.1,228.8 458.0,228.1 459.1,232.0 C460.2,235.9 461.2,249.4 462.3,253.5 C463.4,257.6 464.5,255.1 465.6,256.7 C466.7,258.3 467.0,261.4 468.8,263.1 C470.6,264.9 474.3,267.4 476.4,267.2 C478.5,267.0 478.6,257.6 481.6,262.1 C484.6,266.6 490.4,292.6 494.5,294.3 C498.6,296.0 503.1,277.3 506.1,272.4 C509.1,267.5 510.1,265.8 512.5,264.7 C514.9,263.6 518.1,262.6 520.2,266.0 C522.4,269.4 523.9,278.4 525.4,285.3 C526.9,292.2 526.9,302.9 529.2,307.2 C531.6,311.5 536.7,309.7 539.5,311.0 C542.3,312.3 544.2,315.2 546.0,314.9 C547.8,314.6 548.6,310.2 550.0,309.0 C551.4,307.8 552.8,307.2 554.2,307.4 C555.6,307.5 557.0,309.9 558.4,309.9 C559.8,309.9 560.6,306.8 562.6,307.4 C564.6,308.0 568.0,313.0 570.2,313.3 C572.5,313.6 573.9,308.6 576.1,309.0 C578.4,309.4 581.5,314.5 583.7,315.8 C586.0,317.1 587.9,317.7 589.6,316.6 C591.3,315.5 592.1,310.8 593.8,309.0 C595.5,307.2 597.9,305.3 599.7,305.7 C601.5,306.1 603.2,311.1 604.8,311.6 C606.3,312.2 607.3,309.4 609.0,309.0 C610.7,308.6 613.2,308.1 614.9,309.0 C616.6,309.9 617.1,313.8 619.1,314.1 C621.1,314.4 624.5,312.2 626.7,310.7 C629.0,309.1 630.5,306.8 632.6,304.8 C634.7,302.8 636.9,299.2 639.3,298.9 C641.7,298.6 644.7,301.5 646.9,303.1 C649.1,304.7 651.0,307.8 652.6,308.4 C654.2,309.0 655.8,307.0 656.4,306.7 C657.0,313.1 659.6,338.4 660.2,344.8 C665.2,344.8 685.0,344.8 690.0,344.8" fill="none" stroke="#7030a0" stroke-width="3.2" stroke-linejoin="round" stroke-linecap="round" />
<path d="M217.6,333.8 C218.7,333.5 222.2,332.9 224.4,332.1 C226.7,331.3 229.1,329.9 231.1,328.8 C233.1,327.7 234.5,327.5 236.2,325.4 C237.9,323.3 239.5,319.2 241.2,316.1 C242.8,313.0 244.1,309.5 246.1,306.8 C248.1,304.1 250.8,300.2 253.2,299.7 C255.6,299.2 258.7,302.3 260.4,303.7 C262.1,305.1 261.7,308.1 263.4,307.8 C265.1,307.5 268.1,304.8 270.6,301.7 C273.2,298.6 276.0,292.7 278.7,289.5 C281.4,286.3 284.0,286.0 286.9,282.3 C289.8,278.6 292.3,274.4 296.0,267.1 C299.7,259.8 305.7,245.6 309.3,238.5 C312.9,231.4 314.0,230.1 317.4,224.3 C320.8,218.5 326.5,210.7 329.6,203.9 C332.7,197.1 334.1,188.9 335.8,183.5 C337.5,178.1 338.6,172.3 339.8,171.3 C341.0,170.3 341.2,178.1 342.9,177.4 C344.6,176.7 348.0,167.4 350.0,167.2 C352.0,167.0 352.7,176.5 355.0,176.2 C357.3,175.9 361.5,167.5 363.6,165.5 C365.8,163.5 365.9,163.7 367.9,164.4 C369.9,165.1 372.7,172.8 375.4,169.7 C378.1,166.6 381.9,147.3 384.0,146.1 C386.1,144.8 386.0,153.8 388.3,162.2 C390.6,170.6 394.9,195.2 397.9,196.6 C400.9,198.0 404.0,176.9 406.5,170.8 C409.0,164.7 410.9,159.9 413.0,160.1 C415.1,160.3 417.3,171.7 419.4,171.9 C421.5,172.1 423.5,166.6 425.8,161.2 C428.1,155.8 431.8,142.8 433.4,139.7 C435.0,136.6 434.4,139.5 435.5,142.9 C436.6,146.3 438.2,158.8 439.8,160.1 C441.4,161.3 443.8,151.3 445.2,150.4 C446.6,149.5 447.5,150.0 448.4,154.7 C449.3,159.3 450.0,169.2 450.5,178.3 C451.0,187.4 450.4,206.6 451.6,209.5 C452.9,212.4 456.2,197.1 458.0,195.5 C459.8,193.9 460.2,200.5 462.3,199.8 C464.4,199.1 468.8,194.5 470.9,191.2 C473.0,187.8 473.6,184.0 475.2,179.7 C476.8,175.4 478.6,164.2 480.3,165.5 C482.0,166.8 483.8,182.9 485.5,187.4 C487.2,191.9 488.9,185.7 490.6,192.6 C492.3,199.5 493.2,226.0 495.8,228.6 C498.4,231.2 502.9,215.1 506.1,208.0 C509.3,200.9 512.8,189.5 515.1,186.1 C517.5,182.7 518.5,185.0 520.2,187.4 C521.9,189.8 524.3,192.6 525.4,200.3 C526.5,208.0 525.9,223.5 526.7,233.8 C527.6,244.1 529.0,257.6 530.5,262.1 C532.0,266.6 534.4,258.9 535.7,260.8 C537.0,262.7 536.5,271.6 538.2,273.7 C539.9,275.8 543.5,274.5 546.0,273.7 C548.5,272.9 551.6,268.2 553.4,268.6 C555.2,269.0 555.0,275.2 556.7,276.2 C558.4,277.2 561.4,273.2 563.5,274.5 C565.6,275.8 567.4,281.8 569.4,283.8 C571.4,285.8 573.8,284.3 575.3,286.3 C576.8,288.3 577.7,291.8 578.7,295.6 C579.7,299.4 580.2,305.6 581.2,309.0 C582.2,312.4 583.1,315.5 584.6,315.8 C586.1,316.1 588.7,312.8 590.5,310.7 C592.3,308.6 593.8,304.5 595.5,303.1 C597.2,301.7 598.8,303.0 600.6,302.3 C602.4,301.6 604.5,300.0 606.5,298.9 C608.5,297.8 610.4,295.6 612.4,295.6 C614.4,295.6 616.8,297.9 618.3,298.9 C619.8,299.9 619.8,303.3 621.6,301.5 C623.4,299.7 626.8,291.9 629.2,288.0 C631.6,284.1 634.0,280.8 636.0,277.9 C638.0,274.9 639.3,271.7 641.0,270.3 C642.7,268.9 644.4,268.7 646.1,269.4 C647.8,270.1 649.3,271.4 651.1,274.5 C652.9,277.6 656.0,285.8 657.0,288.0" fill="none" stroke="#7030a0" stroke-width="3.3" stroke-linejoin="round" stroke-linecap="round" stroke-dasharray="5 6.6"/>
</g>
<path d="M94.5,345.5 V69.5 H680.5 V345.5" fill="none" stroke="#7f7f7f" stroke-width="1.1"/>
</g>
<rect x="88" y="905" width="26" height="9" fill="#d9d9d9"/>
<text x="116.6" y="915" font-size="15.5" textLength="136.5" lengthAdjust="spacingAndGlyphs" stroke="#595959" stroke-width="0.3">Climatological Range</text>
<path d="M299.1,907.7 h1.6 l-0.3,4.3 h-1 z" fill="#3a3a3a"/><path d="M302.1,907.7 h1.6 l-0.3,4.3 h-1 z" fill="#3a3a3a"/><path d="M305.1,907.7 h1.6 l-0.3,4.3 h-1 z" fill="#3a3a3a"/><path d="M308.1,907.7 h1.6 l-0.3,4.3 h-1 z" fill="#3a3a3a"/>
<line x1="330.5" y1="909" x2="355.5" y2="909" stroke="#a5a5a5" stroke-width="3" stroke-linecap="round"/>
<text x="358" y="915" font-size="15.5" textLength="22.5" lengthAdjust="spacingAndGlyphs" stroke="#595959" stroke-width="0.3">Avg</text>
<line x1="402" y1="909.4" x2="426" y2="909.4" stroke="#7030a0" stroke-width="3" stroke-linecap="round"/>
<text x="429.1" y="915" font-size="15.5" textLength="30.4" lengthAdjust="spacingAndGlyphs" stroke="#595959" stroke-width="0.3">2017</text>
<line x1="480.5" y1="909.5" x2="506.6" y2="909.5" stroke="#7030a0" stroke-width="2.8" stroke-linecap="round" stroke-dasharray="6 5.9"/>
<text x="509.2" y="915" font-size="15.5" textLength="115.5" lengthAdjust="spacingAndGlyphs" stroke="#595959" stroke-width="0.3">2017 Upper Yukon</text>
</g>
</svg></body></html>
